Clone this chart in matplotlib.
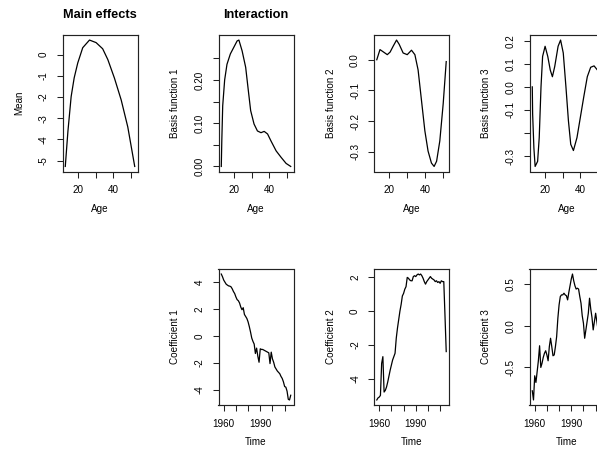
#functional demographic model: main effects, basis functions and coefficients
import matplotlib
matplotlib.use("Agg")
import matplotlib.pyplot as plt
from matplotlib.ticker import FixedLocator, FixedFormatter

plt.rcParams['font.family'] = ['Liberation Sans', 'DejaVu Sans']
plt.rcParams['axes.xmargin'] = 0.04
plt.rcParams['axes.ymargin'] = 0.04

# main effect
mean_age = [13, 14.5, 16.3, 18, 20, 22.8, 26.6, 30.3, 34, 36.9, 40.6, 44.4, 48.1, 52]
mean_val = [-5.27, -3.6, -1.98, -1.1, -0.40, 0.32, 0.68, 0.56, 0.27, -0.24, -1.11, -2.14, -3.41, -5.27]

# basis functions
bf1_age = [13, 13.3, 13.8, 14.9, 16.2, 18.1, 20, 21.9, 22.9, 24.7, 26.7, 28.2, 29.5, 31.4,
           33.3, 35.3, 37.1, 39, 40.9, 43.8, 46.6, 49.4, 52]
bf1_val = [0.0, 0.06, 0.14, 0.20, 0.236, 0.26, 0.275, 0.29, 0.292, 0.267, 0.229, 0.175, 0.129, 0.098,
           0.082, 0.078, 0.081, 0.075, 0.059, 0.036, 0.021, 0.007, 0.0]

bf2_age = [13, 14.8, 16.8, 18.9, 20.5, 22.2, 24.1, 25.6, 27.8, 30.1, 32.5, 34.4, 36.2, 38.1,
           40, 41.8, 43.7, 45.2, 46.6, 48.4, 50.3, 52]
bf2_val = [0.0, 0.033, 0.025, 0.0165, 0.025, 0.044, 0.064, 0.05, 0.022, 0.0165, 0.031, 0.0165, -0.033, -0.132,
           -0.231, -0.297, -0.336, -0.347, -0.33, -0.264, -0.143, -0.006]

bf3_age = [13, 13.2, 13.9, 14.6, 16, 16.9, 17.9, 18.8, 20.2, 21.7, 23.1, 24.3, 25.6, 27.5, 28.9,
           30.4, 31.9, 33.3, 34.6, 36.1, 38.1, 40, 41.9, 43.9, 45.8, 47.7, 49.6, 51, 52]
bf3_val = [0.0, -0.117, -0.264, -0.345, -0.323, -0.22, 0.0, 0.132, 0.176, 0.132, 0.073, 0.044, 0.088, 0.176, 0.203,
           0.147, 0.0, -0.147, -0.249, -0.276, -0.22, -0.132, -0.044, 0.044, 0.085, 0.091, 0.073, 0.04, 0.0]

# coefficients, one value per year
years = list(range(1958, 2016))
coef1 = [4.6, 4.4, 4.15, 4.0, 3.85, 3.78, 3.72, 3.7, 3.65, 3.5, 3.3, 3.15, 2.9, 2.7, 2.62, 2.45,
         2.15, 1.95, 2.1, 1.6, 1.45, 1.3, 1.05, 0.7, 0.3, -0.15, -0.4, -0.6, -1.3, -0.9, -1.5, -1.95,
         -0.95, -1.0, -1.0, -1.05, -1.1, -1.15, -1.2, -1.25, -2.05, -1.2, -1.7, -1.95, -2.3, -2.45,
         -2.6, -2.7, -2.8, -3.0, -3.15, -3.4, -3.75, -3.8, -4.1, -4.7, -4.75, -4.4]
coef2 = [-5.27, -5.15, -5.1, -5.0, -3.1, -2.7, -4.8, -4.7, -4.5, -4.2, -3.85, -3.5, -3.2, -2.9,
         -2.7, -2.5, -1.6, -1.0, -0.5, 0.0, 0.4, 0.9, 1.05, 1.3, 1.45, 2.0, 1.95, 1.85, 1.8, 1.8,
         2.05, 2.1, 2.05, 2.15, 2.2, 2.15, 2.2, 2.1, 1.95, 1.75, 1.6, 1.75, 1.85, 1.95, 2.05, 1.95,
         1.9, 1.85, 1.75, 1.8, 1.7, 1.75, 1.65, 1.8, 1.75, 1.75, -0.3, -2.4]
coef3 = [-0.78, -0.89, -0.6, -0.68, -0.55, -0.42, -0.24, -0.5, -0.45, -0.38, -0.33, -0.3, -0.35,
         -0.42, -0.25, -0.15, -0.25, -0.36, -0.35, -0.25, -0.13, 0.09, 0.25, 0.35, 0.37, 0.37, 0.39,
         0.37, 0.36, 0.31, 0.4, 0.48, 0.56, 0.62, 0.54, 0.48, 0.44, 0.45, 0.44, 0.35, 0.27, 0.12,
         0.03, -0.15, -0.05, 0.05, 0.15, 0.33, 0.2, 0.1, -0.05, 0.05, 0.15, 0.05, -0.05, 0.1, 0.0, -0.1]

W, H = 597, 453
FS = 7.1


def panel(fig, left, top, ylabel, xlabel, w=75, h=136.5):
    ax = fig.add_axes([left / W, 1 - (top + h) / H, w / W, h / H])
    for s in ax.spines.values():
        s.set_linewidth(0.85)
        s.set_color('#222222')
    ax.tick_params(length=4, width=0.75, pad=6, labelsize=FS, color='#222222')
    ax.tick_params(axis='y', labelrotation=90)
    for t in ax.get_yticklabels():
        t.set_va('center')
    ax.set_ylabel(ylabel, fontsize=FS)
    ax.set_xlabel(xlabel, fontsize=FS)
    ax.yaxis.set_label_coords(-38.5 / w, 0.5)
    ax.xaxis.set_label_coords(0.5, -32 / h)
    return ax


def set_ticks(ax, axis, ticks, labels):
    a = ax.xaxis if axis == 'x' else ax.yaxis
    a.set_major_locator(FixedLocator(ticks))
    a.set_major_formatter(FixedFormatter(labels))


fig = plt.figure(figsize=(W / 100, H / 100), dpi=100)
lefts = [62.5, 218.5, 374, 529.5]
top1, top2 = 35, 269

age_ticks = [20, 30, 40, 50]
age_labels = ['20', '', '40', '']
yr_ticks = [1960, 1970, 1980, 1990, 2000, 2010]
yr_labels = ['1960', '', '', '1990', '', '']

ax = panel(fig, lefts[0], top1, 'Mean', 'Age')
ax.plot(mean_age, mean_val, color='black', lw=0.9)
set_ticks(ax, 'x', age_ticks, age_labels)
set_ticks(ax, 'y', [-5, -4, -3, -2, -1, 0], ['-5', '-4', '-3', '-2', '-1', '0'])
ax.set_title('Main effects', fontsize=9.2, fontweight='bold', pad=12)

ax = panel(fig, lefts[1], top1, 'Basis function 1', 'Age')
ax.plot(bf1_age, bf1_val, color='black', lw=0.9)
set_ticks(ax, 'x', age_ticks, age_labels)
set_ticks(ax, 'y', [0, 0.05, 0.10, 0.15, 0.20, 0.25], ['0.00', '', '0.10', '', '0.20', ''])
ax.set_title('Interaction', fontsize=9.2, fontweight='bold', pad=12)

ax = panel(fig, lefts[2], top1, 'Basis function 2', 'Age')
ax.plot(bf2_age, bf2_val, color='black', lw=0.9)
set_ticks(ax, 'x', age_ticks, age_labels)
set_ticks(ax, 'y', [-0.3, -0.2, -0.1, 0.0], ['-0.3', '-0.2', '-0.1', '0.0'])

ax = panel(fig, lefts[3], top1, 'Basis function 3', 'Age')
ax.plot(bf3_age, bf3_val, color='black', lw=0.9)
set_ticks(ax, 'x', age_ticks, age_labels)
set_ticks(ax, 'y', [-0.3, -0.2, -0.1, 0.0, 0.1, 0.2], ['-0.3', '', '-0.1', '0.0', '0.1', '0.2'])

coefs = [coef1, coef2, coef3]
coef_ticks = [([-4, -2, 0, 2, 4], ['-4', '-2', '0', '2', '4']),
              ([-4, -2, 0, 2], ['-4', '-2', '0', '2']),
              ([-0.5, 0.0, 0.5], ['-0.5', '0.0', '0.5'])]
for i in range(3):
    ax = panel(fig, lefts[i + 1], top2, 'Coefficient %d' % (i + 1), 'Time', h=136)
    ax.plot(years, coefs[i], color='black', lw=0.9)
    set_ticks(ax, 'x', yr_ticks, yr_labels)
    set_ticks(ax, 'y', coef_ticks[i][0], coef_ticks[i][1])

fig.savefig('out.png', dpi=100)
